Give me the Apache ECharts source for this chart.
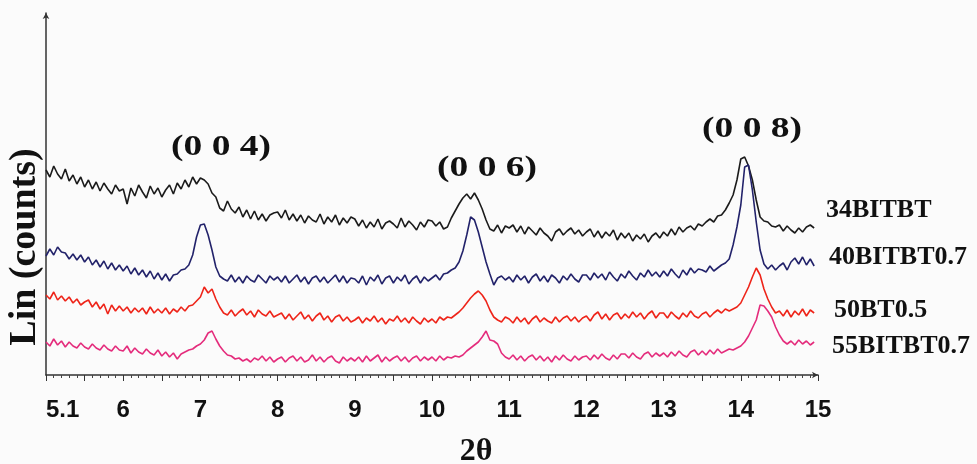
<!DOCTYPE html>
<html>
<head>
<meta charset="utf-8">
<script src="https://cdn.jsdelivr.net/npm/echarts@6/dist/echarts.min.js"></script>
<style>
  html, body { margin: 0; padding: 0; background: #fbfbfb; }
  #chart { width: 977px; height: 464px; }
</style>
</head>
<body>
<div id="chart"></div>
<script>
// XRD scans, 2θ from 5.00° to 14.95° in 0.05° steps (intensity in arbitrary, offset units)
const scanStart = 5.0;
const scanStep = 0.05;

const s34BITBT = [
  205, 198, 209, 201, 196, 206, 194, 200, 191, 198, 188, 195, 186, 193, 184, 192, 186, 181, 190, 184,
  186, 171, 187, 179, 190, 183, 177, 189, 181, 187, 178, 185, 190, 181, 192, 186, 195, 188, 198, 191,
  197, 195, 191, 182, 178, 167, 164, 174, 166, 162, 168, 158, 165, 156, 164, 155, 161, 154, 160, 162,
  163, 157, 165, 155, 161, 154, 160, 152, 159, 155, 153, 161, 151, 158, 153, 160, 150, 157, 152, 158,
  156, 149, 155, 147, 153, 148, 156, 146, 152, 154, 151, 147, 157, 148, 154, 150, 145, 153, 148, 155,
  154, 149, 153, 146, 148, 157, 164, 171, 177, 181, 176, 182, 175, 166, 155, 146, 144, 150, 142, 149,
  147, 150, 143, 149, 141, 148, 144, 140, 147, 142, 139, 134, 143, 146, 140, 144, 147, 141, 145, 139,
  143, 146, 138, 144, 137, 143, 139, 145, 135, 142, 137, 142, 134, 140, 136, 141, 133, 139, 142, 137,
  143, 139, 146, 140, 148, 143, 147, 149, 145, 151, 149, 153, 156, 153, 159, 160, 165, 172, 180, 195,
  216, 218, 209, 195, 175, 158, 154, 153, 149, 148, 150, 144, 149, 145, 142, 147, 143, 148, 150, 147
];

const s40BITBT07 = [
  119, 126, 120, 128, 123, 122, 116, 121, 115, 120, 113, 118, 110, 115, 108, 114, 106, 112, 105, 110,
  104, 109, 101, 107, 100, 105, 98, 104, 96, 102, 95, 101, 94, 100, 101, 105, 106, 110, 120, 138,
  150, 151, 140, 125, 108, 99, 96, 94, 100, 93, 98, 92, 99, 95, 93, 100, 96, 92, 99, 95,
  98, 93, 99, 92, 96, 100, 93, 98, 91, 97, 99, 93, 98, 92, 96, 100, 93, 99, 92, 97,
  96, 92, 99, 90, 98, 94, 100, 91, 97, 99, 92, 98, 94, 100, 91, 96, 99, 92, 98, 94,
  97, 100, 95, 101, 102, 105, 107, 113, 124, 140, 158, 155, 143, 128, 113, 101, 90, 97, 99, 95,
  98, 93, 100, 95, 99, 92, 98, 101, 94, 99, 93, 100, 97, 92, 99, 95, 101, 96, 93, 100,
  100, 95, 102, 97, 101, 95, 103, 98, 94, 101, 97, 104, 99, 95, 102, 98, 105, 99, 103, 98,
  104, 99, 106, 101, 97, 105, 100, 107, 102, 106, 105, 103, 109, 104, 107, 110, 112, 116, 130, 148,
  170, 208, 210, 185, 153, 125, 111, 106, 110, 105, 109, 112, 105, 113, 117, 111, 118, 110, 116, 109
];

const s50BT05 = [
  80, 76, 83, 75, 79, 74, 78, 72, 76, 70, 73, 75, 68, 73, 66, 71, 61, 70, 64, 69,
  64, 68, 62, 67, 63, 67, 61, 68, 62, 66, 62, 67, 61, 66, 63, 68, 64, 69, 70, 74,
  78, 88, 82, 86, 76, 68, 62, 60, 65, 59, 63, 66, 60, 64, 58, 65, 61, 59, 64, 58,
  60, 62, 56, 61, 55, 59, 63, 56, 60, 54, 59, 62, 55, 59, 53, 58, 60, 54, 58, 53,
  55, 58, 52, 57, 54, 59, 53, 57, 51, 56, 54, 59, 53, 57, 52, 58, 54, 51, 57, 53,
  56, 52, 58, 55, 58, 57, 60, 63, 67, 72, 77, 81, 84, 80, 74, 65, 58, 55, 53, 58,
  56, 52, 58, 53, 57, 51, 56, 59, 53, 57, 54, 52, 58, 53, 57, 59, 54, 58, 53, 57,
  59, 54, 60, 63, 56, 61, 55, 60, 62, 56, 61, 57, 63, 58, 62, 56, 61, 64, 57, 62,
  62, 57, 63, 59, 56, 62, 58, 64, 59, 57, 61, 63, 58, 62, 65, 62, 66, 64, 66, 68,
  72, 80, 88, 98, 107, 100, 86, 76, 68, 62, 64, 59, 65, 58, 64, 60, 66, 59, 65, 62
];

const s55BITBT07 = [
  33, 29, 36, 30, 34, 28, 33, 29, 27, 32, 28, 26, 31, 27, 25, 30, 26, 24, 29, 25,
  24, 29, 22, 27, 23, 21, 26, 22, 20, 25, 19, 23, 18, 22, 16, 21, 23, 25, 26, 29,
  31, 35, 42, 44, 36, 29, 24, 20, 19, 16, 17, 14, 16, 13, 17, 15, 19, 14, 18, 13,
  16, 18, 13, 17, 19, 14, 18, 13, 15, 20, 14, 18, 13, 17, 19, 14, 12, 18, 14, 17,
  14, 18, 13, 19, 14, 17, 20, 13, 18, 14, 17, 19, 14, 18, 13, 17, 19, 14, 18, 15,
  18, 14, 19, 15, 18, 17, 19, 18, 20, 24, 27, 30, 33, 38, 44, 35, 34, 31, 22, 18,
  16, 20, 15, 19, 14, 18, 20, 15, 19, 14, 18, 13, 19, 15, 20, 16, 14, 19, 15, 18,
  19, 15, 20, 16, 21, 17, 15, 20, 16, 21, 21, 17, 22, 18, 16, 21, 23, 18, 22, 19,
  22, 18, 23, 19, 24, 20, 18, 23, 25, 20, 24, 20, 25, 21, 26, 22, 24, 26, 25, 27,
  29, 33, 39, 47, 55, 70, 69, 64, 58, 48, 40, 34, 31, 34, 30, 35, 31, 34, 30, 33
];

const sampleNames = ['34BITBT', '40BITBT0.7', '50BT0.5', '55BITBT0.7'];
const sampleColors = ['#1b1b1b', '#22226a', '#ee2419', '#e42c7c'];
const sampleLabelY = [210, 257, 310, 346];
const sampleLabelX = [826, 829, 834, 832];

const reflections = ['(0 0 4)', '(0 0 6)', '(0 0 8)'];
const reflectionPos = [[221, 147], [487, 168], [752, 129]];

// tick values and the text printed under them
const tickValues = [5, 6, 7, 8, 9, 10, 11, 12, 13, 14, 15];
const tickLabels = ['5.1', '6', '7', '8', '9', '10', '11', '12', '13', '14', '15'];

const twoTheta = s34BITBT.map((_, i) => +(scanStart + i * scanStep).toFixed(2));
const allSeries = [s34BITBT, s40BITBT07, s50BT05, s55BITBT07];

const chart = echarts.init(document.getElementById('chart'));

const serif = "'Liberation Serif', 'Times New Roman', serif";
const sans = "'Liberation Sans', Arial, sans-serif";

chart.setOption({
  backgroundColor: '#fbfbfb',
  animation: false,
  grid: { left: 46, right: 159, top: 13, bottom: 89, containLabel: false, outerBoundsMode: 'none' },
  xAxis: {
    type: 'value',
    min: 5,
    max: 15,
    interval: 0.5,
    name: '2θ',
    nameLocation: 'middle',
    nameGap: 61,
    nameTextStyle: {
      fontFamily: serif, fontWeight: 'bold', fontSize: 32, color: '#111',
      padding: [0, 0, 0, 88]
    },
    axisLine: { lineStyle: { color: '#333', width: 1.5 }, symbol: ['none', 'arrow'], symbolSize: [5, 6] },
    axisTick: { length: 6, lineStyle: { color: '#333', width: 1 } },
    minorTick: { show: true, splitNumber: 5, length: 3, lineStyle: { color: '#444', width: 1 } },
    splitLine: { show: false },
    axisLabel: {
      margin: 23,
      fontFamily: sans, fontWeight: 'bold', fontSize: 24, color: '#111',
      alignMinLabel: 'left',
      formatter: v => {
        const k = tickValues.indexOf(v);
        return k >= 0 ? tickLabels[k] : '';
      }
    }
  },
  yAxis: {
    type: 'value',
    min: 0,
    max: 362,
    name: 'Lin (counts)',
    nameLocation: 'middle',
    nameRotate: 90,
    nameGap: 2,
    nameTextStyle: {
      fontFamily: serif, fontWeight: 'bold', fontSize: 38, color: '#111',
      padding: [0, 106, 0, 0]
    },
    axisLine: { show: true, lineStyle: { color: '#333', width: 1.5 }, symbol: ['none', 'arrow'], symbolSize: [5, 6] },
    axisTick: { show: false },
    axisLabel: { show: false },
    splitLine: { show: false }
  },
  series: allSeries.map((vals, k) => ({
    name: sampleNames[k],
    type: 'line',
    data: vals.map((v, i) => [twoTheta[i], v]),
    showSymbol: false,
    lineStyle: { color: sampleColors[k], width: 1.6 },
    z: 3 + k
  })),
  graphic: [
    ...reflections.map((t, k) => ({
      type: 'text',
      x: reflectionPos[k][0],
      y: reflectionPos[k][1],
      scaleX: 1.25,
      style: {
        text: t, fill: '#111',
        font: `bold 30px ${serif}`,
        align: 'center', verticalAlign: 'middle'
      }
    })),
    ...sampleNames.map((t, k) => ({
      type: 'text',
      x: sampleLabelX[k],
      y: sampleLabelY[k],
      style: {
        text: t, fill: '#111',
        font: `bold 26px ${serif}`,
        align: 'left', verticalAlign: 'middle'
      }
    }))
  ]
});
</script>
</body>
</html>
